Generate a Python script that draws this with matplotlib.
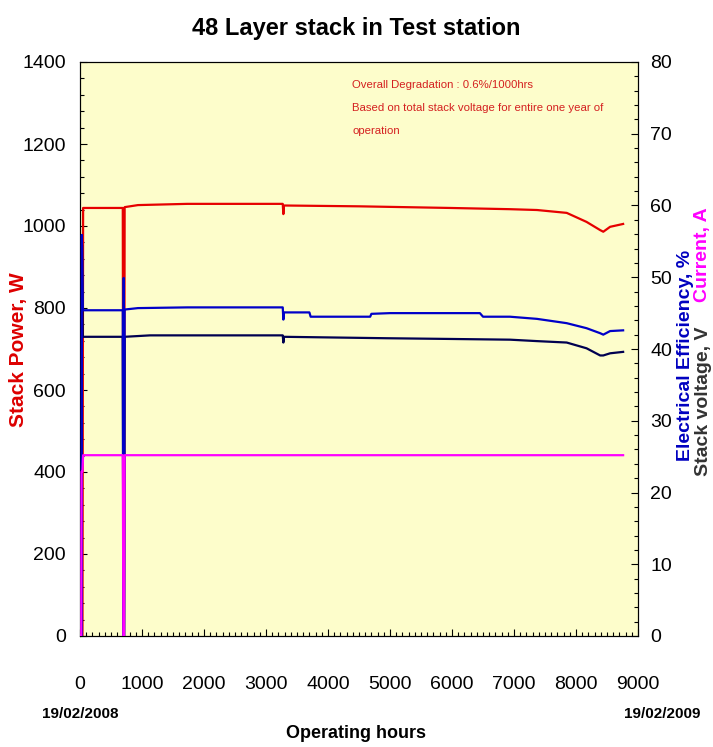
import matplotlib
matplotlib.use("Agg")
import matplotlib.pyplot as plt
from matplotlib.ticker import MultipleLocator

# data (operating hours)
power_hours = [0, 40, 50, 690, 700, 710, 720, 935, 1730, 3270, 3280, 3290, 4500,
               5970, 6935, 7370, 7850, 8170, 8390, 8440, 8550, 8760]
power_w = [0, 0, 1044, 1044, 0, 0, 1046, 1051, 1054, 1054, 1029, 1050, 1048,
           1044, 1041, 1039, 1032, 1010, 990, 986, 998, 1005]

eff_hours = [0, 25, 30, 45, 690, 700, 705, 710, 720, 935, 1730, 3270, 3280, 3290,
             3700, 3720, 4680, 4700, 5000, 6450, 6500, 6935, 7370, 7850, 8170,
             8390, 8440, 8550, 8760]
eff_pct = [0, 0, 55.9, 45.4, 45.4, 0, 49.9, 0, 45.5, 45.7, 45.8, 45.8, 44.1, 45.1,
           45.1, 44.5, 44.5, 44.9, 45.0, 45.0, 44.5, 44.5, 44.2, 43.6, 42.9,
           42.2, 42.0, 42.5, 42.6]

volt_hours = [0, 25, 32, 45, 690, 700, 710, 720, 1130, 3270, 3280, 3290, 4950,
              5970, 6935, 7370, 7850, 8170, 8390, 8440, 8550, 8760]
volt_v = [0, 0, 54.5, 41.7, 41.7, 0, 0, 41.7, 41.9, 41.9, 40.9, 41.7, 41.5,
          41.4, 41.3, 41.1, 40.9, 40.1, 39.1, 39.1, 39.4, 39.6]

curr_hours = [0, 20, 25, 40, 50, 690, 700, 710, 720, 8760]
curr_a = [0, 0, 22.9, 22.9, 25.2, 25.2, 0, 0, 25.2, 25.2]

note_lines = ["Overall Degradation : 0.6%/1000hrs",
              "Based on total stack voltage for entire one year of",
              "operation"]

FONT = ["Liberation Sans", "DejaVu Sans"]
plt.rcParams["font.family"] = FONT

W, H = 713, 747
fig = plt.figure(figsize=(W / 100, H / 100), dpi=100)
ax = fig.add_axes([80 / W, 1 - 636 / H, 558 / W, 574 / H])
ax.set_facecolor("#fdfdcb")
ax2 = ax.twinx()

# power on the left axis, the rest on the right one
ax.plot(power_hours, power_w, color="#e60000", lw=1.6, zorder=2)
ax2.plot(volt_hours, volt_v, color="#000050", lw=1.6, zorder=3)
ax2.plot(eff_hours, eff_pct, color="#0000c8", lw=1.6, zorder=4)
ax2.plot(curr_hours, curr_a, color="#ff00ff", lw=1.6, zorder=5)

ax.set_xlim(0, 9000)
ax.set_ylim(0, 1400)
ax2.set_ylim(0, 80)

ax.xaxis.set_major_locator(MultipleLocator(1000))
ax.xaxis.set_minor_locator(MultipleLocator(100))
ax.yaxis.set_major_locator(MultipleLocator(200))
ax.yaxis.set_minor_locator(MultipleLocator(40))
ax2.yaxis.set_major_locator(MultipleLocator(10))
ax2.yaxis.set_minor_locator(MultipleLocator(2))

ax.tick_params(axis="both", which="both", direction="in", top=False, right=False,
               width=0.8)
ax.tick_params(axis="both", which="major", length=5, labelsize=14)
ax.tick_params(axis="both", which="minor", length=3)
ax.tick_params(axis="x", which="major", pad=29)
ax.tick_params(axis="y", which="major", pad=10)
ax2.tick_params(axis="y", which="both", direction="in", width=0.8)
ax2.tick_params(axis="y", which="major", length=5, pad=9, labelsize=14)
ax2.tick_params(axis="y", which="minor", length=3)

fig.text(0.5, 1 - 28 / H, "48 Layer stack in Test station", ha="center",
         va="center", fontweight="bold", fontsize=17)
fig.text(0.5, 1 - 733 / H, "Operating hours", ha="center", va="center",
         fontweight="bold", fontsize=13)
fig.text(80 / W, 1 - 714 / H, "19/02/2008", ha="center", va="center",
         fontweight="bold", fontsize=11)
fig.text(662 / W, 1 - 714 / H, "19/02/2009", ha="center", va="center",
         fontweight="bold", fontsize=11)

fig.text(19 / W, 1 - 350 / H, "Stack Power, W", rotation=90, ha="center",
         va="center", fontweight="bold", fontsize=15, color="#dd0000")
fig.text(686 / W, 1 - 355 / H, "Electrical Efficiency, %", rotation=90,
         ha="center", va="center", fontweight="bold", fontsize=14,
         color="#0000c0")
fig.text(703 / W, 1 - 476 / H, "Stack voltage, V", rotation=90, ha="center",
         va="bottom", fontweight="bold", fontsize=14, color="#333333")
fig.text(703 / W, 1 - 207 / H, "Current, A", rotation=90, ha="center",
         va="top", fontweight="bold", fontsize=14, color="#ff00ff")

for i, line in enumerate(note_lines):
    ax.text(0.4875, (636 - 85 - 23 * i) / 574, line, transform=ax.transAxes,
            ha="left", va="center", fontsize=8.2, color="#d42020")

fig.savefig("out.png", dpi=100)
